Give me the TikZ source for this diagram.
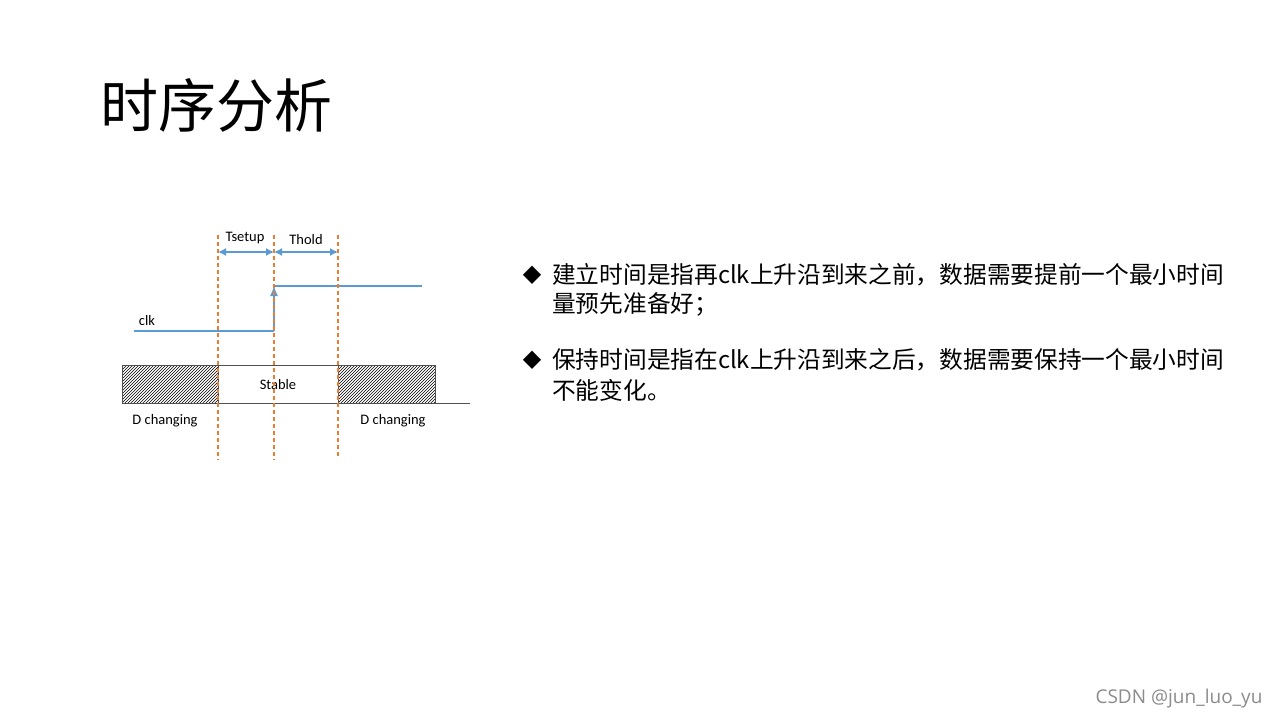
\documentclass[tikz,border=0pt]{standalone}
\usepackage{fontspec}
\setmainfont{Carlito}
\newfontfamily\cjk{Noto Sans CJK SC}
\newfontfamily\symb{DejaVu Sans}
\newfontfamily\wmfont{Open Sans}
\usetikzlibrary{patterns,arrows.meta}
\definecolor{guideorange}{RGB}{237,125,49}
\definecolor{clkblue}{RGB}{91,155,213}
\definecolor{dataline}{RGB}{80,80,80}
\tikzset{
  guide/.style={guideorange,line width=1.2pt,dash pattern=on 4pt off 3pt},
  span/.style={clkblue,line width=1.4pt,{Latex[length=8pt,width=8pt]}-{Latex[length=8pt,width=8pt]}},
  wave/.style={clkblue,line width=1.2pt},
  datbox/.style={dataline,line width=1pt},
  lab/.style={font=\fontsize{14.5}{16}\selectfont},
  bul/.style={anchor=west,font=\cjk\fontsize{23.7}{27}\selectfont,inner sep=0pt},
  dia/.style={font=\symb\fontsize{24}{26}\selectfont,inner sep=0pt}
}
\begin{document}
\begin{tikzpicture}[x=1pt,y=-1pt]
  \useasboundingbox[fill=white] (0,0) rectangle (1280,720);
  % title
  \node[anchor=west,inner sep=0pt,font=\cjk\fontsize{58}{62}\selectfont] (title) at (100,105) {时序分析};
  % data line
  \draw[datbox,pattern=north east lines,pattern color=black] (122,365) rectangle (218,403);
  \draw[datbox,pattern=north east lines,pattern color=black] (338,365) rectangle (435,403);
  \coordinate (stl) at (218,365); \coordinate (str) at (338,365);
  \coordinate (bl) at (122,403); \coordinate (br) at (470,403);
  \draw[datbox] (stl) -- (str);
  \draw[datbox] (bl) -- (br);
  \node[lab] (stable) at (278,385) {Stable};
  \node[lab] (dch1) at (165,421) {D changing};
  \node[lab] (dch2) at (393,421) {D changing};
  % clock
  \coordinate (clks) at (134,331); \coordinate (clkr) at (274,331);
  \coordinate (clkh) at (274,286); \coordinate (clke) at (422,286);
  \draw[wave] (clks) -- (clkr);
  \draw[wave,-{Latex[length=10pt,width=8pt]}] (clkr) -- (clkh);
  \draw[wave] (clkh) -- (clke);
  \node[lab] (clk) at (147,321) {clk};
  % guides
  \coordinate (g1t) at (218,235); \coordinate (g1b) at (218,460);
  \coordinate (g2t) at (274,235); \coordinate (g2b) at (274,460);
  \coordinate (g3t) at (338,235); \coordinate (g3b) at (338,458);
  \draw[guide] (g1t) -- (g1b);
  \draw[guide] (g2t) -- (g2b);
  \draw[guide] (g3t) -- (g3b);
  \coordinate (a1) at (218,252); \coordinate (a2) at (274,252); \coordinate (a3) at (338,252);
  \draw[span] (a1) -- (a2);
  \draw[span] (a2) -- (a3);
  \node[lab] (tsu) at (245,238) {Tsetup};
  \node[lab] (tho) at (306,240) {Thold};
  % bullets
  \node[dia] (dia1) at (532,275) {◆};
  \node[bul] (l1) at (552,275) {建立时间是指再clk上升沿到来之前，数据需要提前一个最小时间};
  \node[bul] (l2) at (552,304) {量预先准备好；};
  \node[dia] (dia2) at (532,360) {◆};
  \node[bul] (l3) at (552,360) {保持时间是指在clk上升沿到来之后，数据需要保持一个最小时间};
  \node[bul] (l4) at (552,390) {不能变化。};
  % watermark
  \node[anchor=east,text=black!45,font=\wmfont\fontsize{19}{21}\selectfont] (wm) at (1266,699) {CSDN @jun\_luo\_yu};
\end{tikzpicture}
\end{document}
